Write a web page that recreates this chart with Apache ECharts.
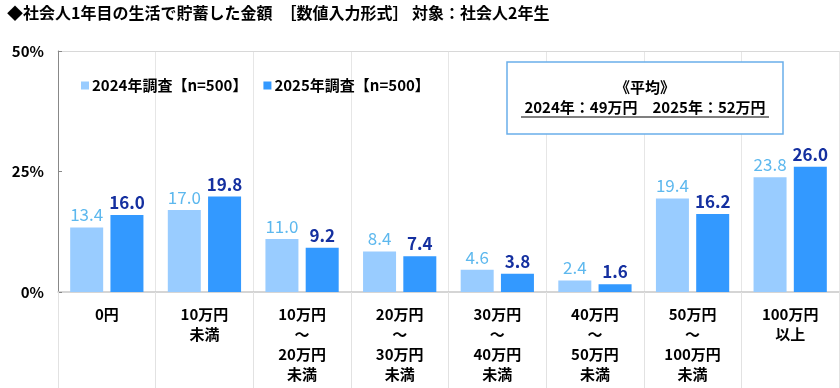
<!DOCTYPE html>
<html><head><meta charset="utf-8">
<script src="https://cdn.jsdelivr.net/npm/echarts@6/dist/echarts.min.js"></script>
<style>html,body{margin:0;padding:0;background:#fff}#c{width:840px;height:388px}</style>
</head><body><div id="c"></div>
<script>
const title = '◆社会人1年目の生活で貯蓄した金額\u3000［数値入力形式］ 対象：社会人2年生';
const categories = ['0円', '10万円\n未満', '10万円\n～\n20万円\n未満', '20万円\n～\n30万円\n未満', '30万円\n～\n40万円\n未満', '40万円\n～\n50万円\n未満', '50万円\n～\n100万円\n未満', '100万円\n以上'];
const seriesNames = ['2024年調査【n=500】', '2025年調査【n=500】'];
const values2024 = [13.4, 17.0, 11.0, 8.4, 4.6, 2.4, 19.4, 23.8];
const values2025 = [16.0, 19.8, 9.2, 7.4, 3.8, 1.6, 16.2, 26.0];
const yTicks = [0, 25, 50];
const avgTitle = '《平均》';
const avgText = '2024年：49万円\u30002025年：52万円';

const FONT = '"Noto Sans CJK JP", sans-serif';
const chart = echarts.init(document.getElementById('c'));
chart.setOption({
  animation: false,
  textStyle: { fontFamily: FONT },
  title: {
    text: title, left: 2, top: 0,
    textStyle: { fontSize: 16, fontWeight: 'bold', color: '#000', fontFamily: FONT }
  },
  legend: {
    left: 76, top: 73, itemWidth: 8, itemHeight: 8, itemGap: 16,
    icon: 'rect',
    textStyle: { fontSize: 15, fontWeight: 'bold', color: '#000', fontFamily: FONT, padding: [0,0,0,-2] },
    data: seriesNames
  },
  grid: { left: 58, right: 1, top: 51, bottom: 96, containLabel: false },
  xAxis: [{
    type: 'category', data: categories,
    axisLine: { lineStyle: { color: '#c8c8c8', width: 1.5 } },
    axisTick: { show: true, length: 96, lineStyle: { color: '#e2e2e2' } },
    splitLine: { show: true, lineStyle: { color: '#e6e6e6' } },
    axisLabel: { fontSize: 15, fontWeight: 'bold', color: '#000', lineHeight: 20, margin: 12, fontFamily: FONT }
  }, {
    type: 'category', position: 'top', data: categories,
    axisLine: { lineStyle: { color: '#d8d8d8' } },
    axisTick: { show: false }, axisLabel: { show: false }
  }],
  yAxis: {
    type: 'value', min: 0, max: 50, interval: 25,
    axisLine: { show: true, lineStyle: { color: '#888' } },
    axisTick: { show: true, inside: true, length: 4, lineStyle: { color: '#888' } },
    splitLine: { show: false },
    axisLabel: { fontSize: 15, fontWeight: 'bold', color: '#000', margin: 14, fontFamily: FONT,
      formatter: v => yTicks.includes(v) ? v + '%' : '' }
  },
  series: [{
    name: seriesNames[0], type: 'bar', data: values2024, barWidth: 33, barGap: '22%',
    itemStyle: { color: '#99CCFF' },
    label: { show: true, position: 'top', distance: 4, fontSize: 17, color: '#5DB8EE', fontFamily: FONT,
      formatter: p => p.value.toFixed(1) }
  }, {
    name: seriesNames[1], type: 'bar', data: values2025, barWidth: 33,
    itemStyle: { color: '#3399FF' },
    label: { show: true, position: 'top', distance: 4, fontSize: 17, fontWeight: 'bold', color: '#1530A0', fontFamily: FONT,
      formatter: p => p.value.toFixed(1) }
  }],
  graphic: [{
    type: 'rect', x: 507, y: 62, z: 10,
    shape: { width: 276, height: 72 },
    style: { fill: '#fff', stroke: '#6AAEEA', lineWidth: 1.5 }
  }, {
    type: 'text', x: 645, y: 87, z: 11,
    style: { text: avgTitle, font: 'bold 15px ' + FONT, fill: '#000', align: 'center', verticalAlign: 'middle' }
  }, {
    type: 'text', x: 645, y: 107, z: 11,
    style: { text: avgText, font: 'bold 15px ' + FONT, fill: '#000', align: 'center', verticalAlign: 'middle' }
  }, {
    type: 'line', z: 11, shape: { x1: 521, y1: 117, x2: 769, y2: 117 },
    style: { stroke: '#000', lineWidth: 1.2 }
  }]
});
</script></body></html>
